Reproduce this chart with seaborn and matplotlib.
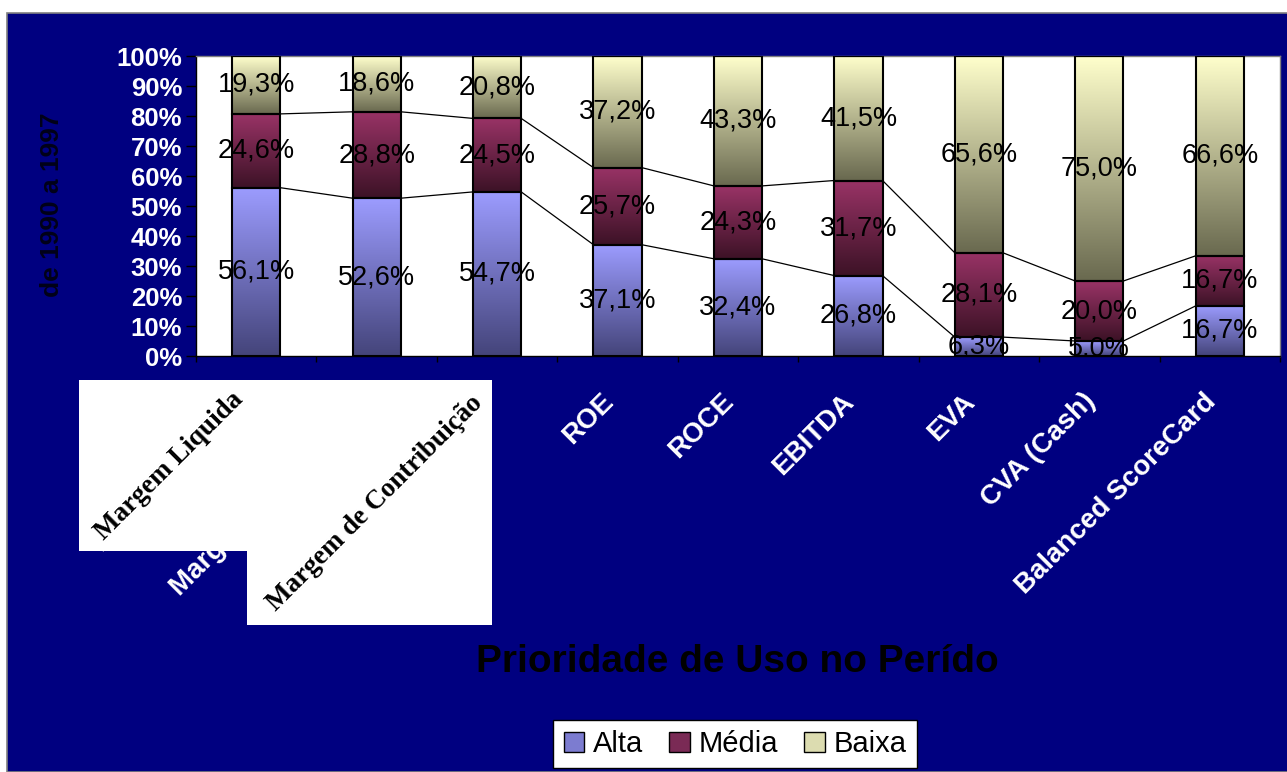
import numpy as np
import pandas as pd
import matplotlib
matplotlib.use("Agg")
import matplotlib.pyplot as plt
import matplotlib.transforms as mtransforms
import seaborn as sns
from matplotlib.patches import Rectangle, Patch
from matplotlib.colors import LinearSegmentedColormap

# ---------------- data ----------------
categories = ["Margem Líquida", "Margem Operacional", "Margem de Contribuição",
              "ROE", "ROCE", "EBITDA", "EVA", "CVA (Cash)", "Balanced ScoreCard"]
series_names = ["Alta", "Média", "Baixa"]
alta = [56.1, 52.6, 54.7, 37.1, 32.4, 26.8, 6.3, 5.0, 16.7]
media = [24.6, 28.8, 24.5, 25.7, 24.3, 31.7, 28.1, 20.0, 16.7]
baixa = [19.3, 18.6, 20.8, 37.2, 43.3, 41.5, 65.6, 75.0, 66.6]
y_ticks = [0, 10, 20, 30, 40, 50, 60, 70, 80, 90, 100]
y_tick_labels = [f"{v}%" for v in y_ticks]
title_text = "Prioridade de Uso no Perído"
ylabel_text = "de 1990 a 1997"
overlay_labels = ["Margem Liquida", "Margem de Contribuição"]

# ---------------- style ----------------
plt.rcParams["font.family"] = ["Liberation Sans", "DejaVu Sans"]

W, H = 1287, 772
fig = plt.figure(figsize=(W / 100, H / 100), dpi=100)
fig.patch.set_facecolor("white")

def fx(px):
    return px / W

def fy(py):
    return 1 - py / H

# navy background panel
fig.patches.append(Rectangle((fx(7), 0), 1, fy(13), transform=fig.transFigure,
                             facecolor="#000080", edgecolor="#808080", lw=1.2, zorder=-10))

ax = fig.add_axes([fx(196), fy(356), fx(1280) - fx(196), fy(56) - fy(356)])
ax.set_facecolor("white")

df = pd.DataFrame({"cat": categories, "Alta": alta, "Média": media, "Baixa": baixa})
bottoms = {
    "Alta": np.zeros(len(categories)),
    "Média": np.array(alta),
    "Baixa": np.array(alta) + np.array(media),
}

grad_colors = {
    "Alta": ("#44447a", "#9c9cff"),
    "Média": ("#3c1226", "#993366"),
    "Baixa": ("#69694f", "#ffffcc"),
}
legend_colors = {"Alta": "#7c7cd0", "Média": "#7a2a55", "Baixa": "#dcdcb0"}

grad = np.linspace(0, 1, 256).reshape(-1, 1)

for name in series_names:
    n_before = len(ax.patches)
    sns.barplot(data=df, x="cat", y=name, order=categories, color=legend_colors[name],
                width=0.4, errorbar=None, bottom=bottoms[name], ax=ax,
                edgecolor="black", linewidth=1.5)
    new_patches = ax.patches[n_before:]
    cmap = LinearSegmentedColormap.from_list(name, list(grad_colors[name]))
    for p in new_patches:
        x0, w = p.get_x(), p.get_width()
        y0, h = p.get_y(), p.get_height()
        ax.imshow(grad, extent=[x0, x0 + w, y0, y0 + h], origin="lower",
                  aspect="auto", cmap=cmap, zorder=2, interpolation="bilinear")
        p.set_facecolor("none")
        p.set_zorder(3)

# series lines connecting segment tops
cum_a = np.array(alta)
cum_m = np.array(alta) + np.array(media)
half = 0.2
for cum in (cum_a, cum_m):
    for i in range(len(categories) - 1):
        ax.plot([i + half, i + 1 - half], [cum[i], cum[i + 1]], color="black",
                lw=0.9, zorder=4)

# data labels
def fmt(v):
    return f"{v:.1f}%".replace(".", ",")

for name in series_names:
    vals = df[name].values
    for i, v in enumerate(vals):
        yc = bottoms[name][i] + v / 2
        ax.text(i, yc, fmt(v), ha="center", va="center", fontsize=19.5,
                color="black", zorder=6, clip_on=True)

ax.set_xlim(-0.5, len(categories) - 0.5)
ax.set_ylim(0, 100)
ax.set_xlabel("")
ax.set_ylabel("")

ax.set_yticks(y_ticks)
ax.set_yticklabels(y_tick_labels, color="white", fontweight="bold", fontsize=18.5)
ax.tick_params(axis="y", length=7, width=1, color="black", pad=3, direction="out")

ax.set_xticks(range(len(categories)))
ax.set_xticklabels(categories, rotation=45, ha="right", va="center",
                   rotation_mode="anchor", color="white", fontweight="bold", fontsize=20)
ax.tick_params(axis="x", which="major", length=0, pad=30)
shift = mtransforms.ScaledTranslation(-8 / 100, 0, fig.dpi_scale_trans)
for lab in ax.get_xticklabels():
    lab.set_transform(lab.get_transform() + shift)
# the pasted label image hides the rest of the third category label
hidden_clip = mtransforms.TransformedBbox(
    mtransforms.Bbox([[0, fy(625)], [1, 1]]), fig.transFigure)
third = ax.get_xticklabels()[2]
third.set_clip_box(hidden_clip)
third.set_clip_on(True)
ax.set_xticks(np.arange(-0.5, len(categories), 1), minor=True)
ax.tick_params(axis="x", which="minor", length=4, width=1, color="black", direction="out")

for s in ("top", "right"):
    ax.spines[s].set_color("#808080")
    ax.spines[s].set_linewidth(1)
for s in ("left", "bottom"):
    ax.spines[s].set_color("black")
    ax.spines[s].set_linewidth(1)

# y-axis title (dark text on navy)
fig.text(fx(52), fy(205), ylabel_text, rotation=90, ha="center", va="center",
         fontsize=19, fontweight="bold", color="#000018")

# chart x title
fig.text(fx(737), fy(662), title_text, ha="center", va="center",
         fontsize=28, fontweight="bold", color="black")

# pasted white label boxes on top of the first category labels
fig.patches.append(Rectangle((fx(79), fy(551)), fx(247) - fx(79), fy(380) - fy(551),
                             transform=fig.transFigure, facecolor="white",
                             edgecolor="none", zorder=5))
fig.patches.append(Rectangle((fx(247), fy(625)), fx(492) - fx(247), fy(380) - fy(625),
                             transform=fig.transFigure, facecolor="white",
                             edgecolor="none", zorder=5))
fig.text(fx(169), fy(466), overlay_labels[0], rotation=45, ha="center", va="center",
         fontsize=19.5, fontweight="bold", family=["Liberation Serif", "DejaVu Serif"],
         color="black", zorder=6)
fig.text(fx(375), fy(503), overlay_labels[1], rotation=45, ha="center", va="center",
         fontsize=19.5, fontweight="bold", family=["Liberation Serif", "DejaVu Serif"],
         color="black", zorder=6)

# legend
handles = [Patch(facecolor=legend_colors[n], edgecolor="black", lw=1, label=n)
           for n in series_names]
leg = fig.legend(handles=handles, loc="center", bbox_to_anchor=(fx(735), fy(744)),
                 ncol=3, fontsize=21, frameon=True, fancybox=False, framealpha=1,
                 facecolor="white", edgecolor="black", handlelength=0.7,
                 handleheight=0.7, handletextpad=0.3, columnspacing=0.9,
                 borderpad=0.35)
leg.get_frame().set_linewidth(1)
leg.set_zorder(7)

fig.savefig("out.png", dpi=100, facecolor=fig.get_facecolor())
